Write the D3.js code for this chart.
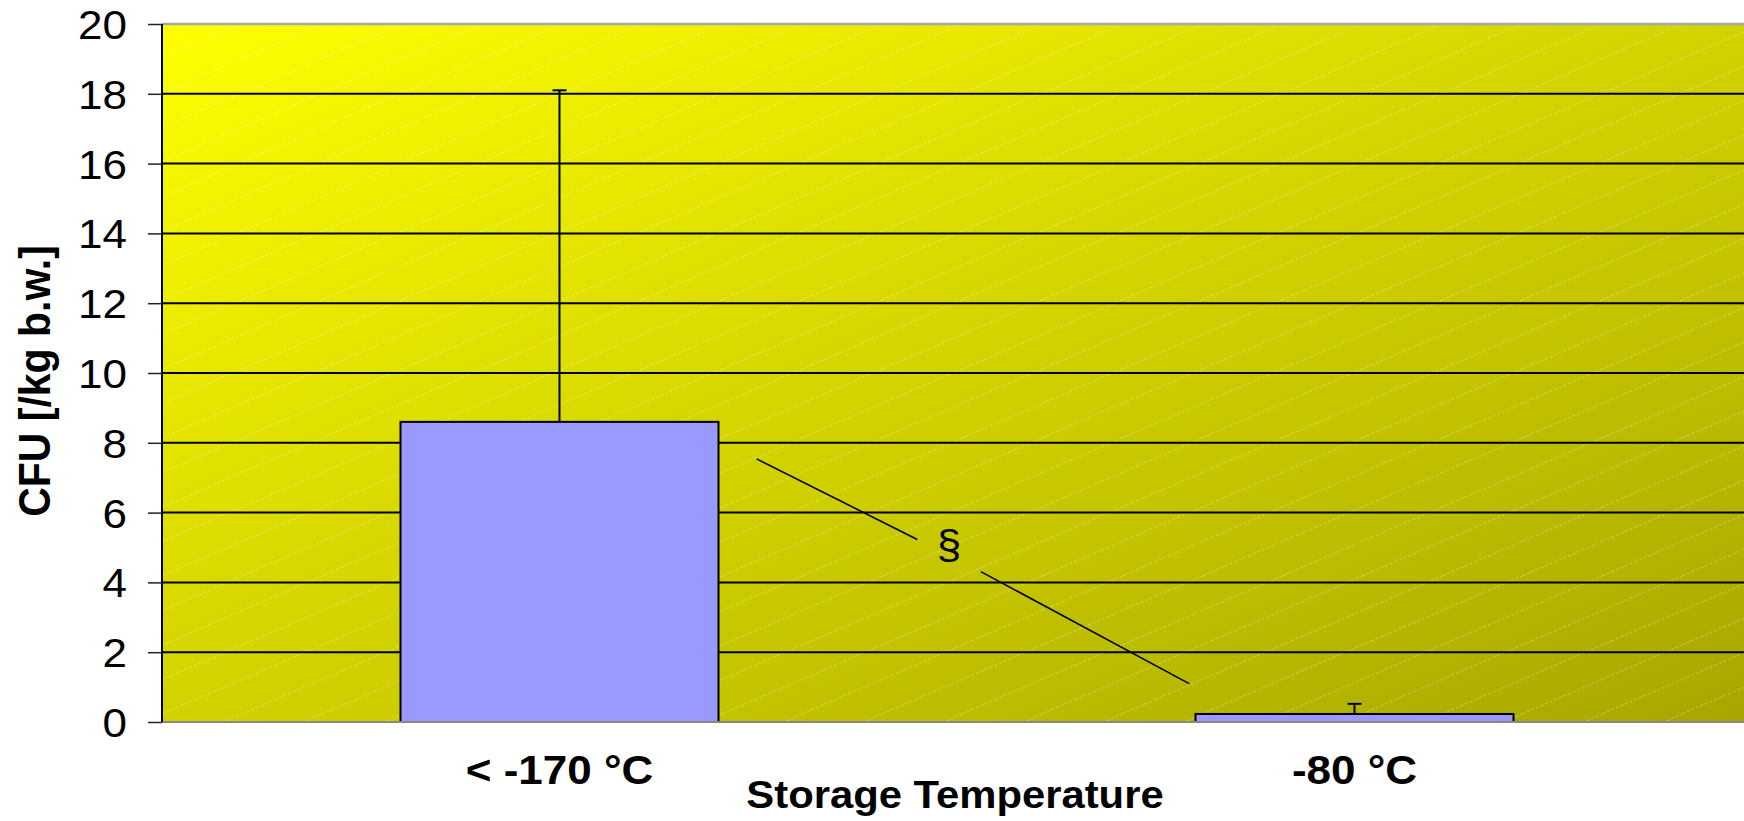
<!DOCTYPE html>
<html>
<head>
<meta charset="utf-8">
<script src="https://cdn.jsdelivr.net/npm/d3@7"></script>
<style>
  html, body { margin: 0; padding: 0; background: #fff; overflow: hidden; }
  svg { display: block; }
</style>
</head>
<body>
<svg id="chart" width="1744" height="821"></svg>
<script>
// ---- data ----
const categories = ["< -170 °C", "-80 °C"];
const means = [8.6, 0.23];
const errors = [9.5, 0.29];           // upper error (SD)
const yTicks = [0, 2, 4, 6, 8, 10, 12, 14, 16, 18, 20];
const yTitle = "CFU [/kg b.w.]";
const xTitle = "Storage Temperature";
// significance annotation, x in category-index units, y in data units
const annotX1 = [0.248, 0.450];
const annotY1 = [7.54, 5.23];
const annotX2 = [0.530, 0.792];
const annotY2 = [4.31, 1.10];
const annotSymbol = { text: "§", x: 0.49, y: 5.0 };

// ---- layout ----
const W = 1744, H = 821;
const margin = { left: 162, top: 24 };
const plotW = 1590, plotH = 698;
const font = "'Liberation Sans', Arial, Helvetica, sans-serif";
const sx = 1.1; // horizontal stretch of text in the original

const svg = d3.select("#chart");
const defs = svg.append("defs");

const grad = defs.append("linearGradient").attr("id", "bg")
  .attr("x1", 0).attr("y1", 0).attr("x2", 1).attr("y2", 1);
grad.append("stop").attr("offset", 0).attr("stop-color", "#FFFF00");
grad.append("stop").attr("offset", 0.5).attr("stop-color", "#D2D200");
grad.append("stop").attr("offset", 1).attr("stop-color", "#A6A600");

const pw = 80, ph = 34.5;
const pat = defs.append("pattern").attr("id", "hatch")
  .attr("patternUnits", "userSpaceOnUse")
  .attr("width", pw).attr("height", ph);
pat.append("line").attr("x1", 0).attr("y1", ph).attr("x2", pw).attr("y2", 0)
  .attr("stroke", "#ffffff").attr("stroke-opacity", 0.35)
  .attr("stroke-width", 1).attr("stroke-dasharray", "3,2");

const g = svg.append("g").attr("transform", `translate(${margin.left},${margin.top})`);

const y = d3.scaleLinear().domain([0, 20]).range([plotH, 0]);
const x = d3.scaleBand().domain(categories).range([0, plotW])
  .paddingInner(0.6).paddingOuter(0.3);
const xi = d3.scaleLinear().domain([0, 1])
  .range([x(categories[0]) + x.bandwidth() / 2, x(categories[1]) + x.bandwidth() / 2]);

// background
g.append("rect").attr("width", plotW).attr("height", plotH).attr("fill", "url(#bg)");
g.append("rect").attr("width", plotW).attr("height", plotH).attr("fill", "url(#hatch)");

// gridlines
g.selectAll("line.grid").data(yTicks.filter(d => d > 0 && d < 20)).enter()
  .append("line").attr("class", "grid")
  .attr("x1", 0).attr("x2", plotW)
  .attr("y1", d => y(d)).attr("y2", d => y(d))
  .attr("stroke", "#000").attr("stroke-width", 2);
// top border
g.append("line").attr("x1", 0).attr("x2", plotW).attr("y1", y(20)).attr("y2", y(20))
  .attr("stroke", "#a8a8a8").attr("stroke-width", 2.5);

// error bars
const eb = g.selectAll("g.err").data(categories).enter().append("g").attr("class", "err");
eb.append("line")
  .attr("x1", d => x(d) + x.bandwidth() / 2).attr("x2", d => x(d) + x.bandwidth() / 2)
  .attr("y1", (d, i) => y(means[i])).attr("y2", (d, i) => y(means[i] + errors[i]))
  .attr("stroke", "#000").attr("stroke-width", 2);
eb.append("line")
  .attr("x1", d => x(d) + x.bandwidth() / 2 - 7).attr("x2", d => x(d) + x.bandwidth() / 2 + 7)
  .attr("y1", (d, i) => y(means[i] + errors[i])).attr("y2", (d, i) => y(means[i] + errors[i]))
  .attr("stroke", "#000").attr("stroke-width", 2);

// bars
g.selectAll("rect.bar").data(categories).enter().append("rect").attr("class", "bar")
  .attr("x", d => x(d)).attr("width", x.bandwidth())
  .attr("y", (d, i) => y(means[i])).attr("height", (d, i) => y(0) - y(means[i]))
  .attr("fill", "#9999FF").attr("stroke", "#000").attr("stroke-width", 2);

// zero line
g.append("line").attr("x1", 0).attr("x2", plotW).attr("y1", y(0)).attr("y2", y(0))
  .attr("stroke", "#888").attr("stroke-width", 2);

// annotation
const lineGen = d3.line().x(d => xi(d[0])).y(d => y(d[1]));
g.append("path").attr("d", lineGen(d3.zip(annotX1, annotY1)))
  .attr("fill", "none").attr("stroke", "#000").attr("stroke-width", 1.6);
g.append("path").attr("d", lineGen(d3.zip(annotX2, annotY2)))
  .attr("fill", "none").attr("stroke", "#000").attr("stroke-width", 1.6);
g.append("text")
  .attr("transform", `translate(${xi(annotSymbol.x)},${y(annotSymbol.y)}) scale(${sx},1)`)
  .attr("text-anchor", "middle").attr("dy", "0.28em")
  .style("font-family", font).style("font-size", "40px").attr("fill", "#000")
  .text(annotSymbol.text);

// y axis
const yAxis = g.append("g").call(
  d3.axisLeft(y).tickValues(yTicks).tickSize(14).tickPadding(21).tickFormat(d3.format("d")));
yAxis.select(".domain").attr("stroke", "#000").attr("stroke-width", 2)
  .attr("d", `M0,${plotH}V0`);
yAxis.selectAll(".tick line").attr("stroke", "#222").attr("stroke-width", 1.5);
yAxis.selectAll(".tick text")
  .attr("x", -35 / sx).attr("dy", "0.36em")
  .attr("transform", `scale(${sx},1)`)
  .style("font-family", font).style("font-size", "40px").attr("fill", "#000");

// x axis
const xAxis = g.append("g").attr("transform", `translate(0,${plotH})`)
  .call(d3.axisBottom(x).tickSize(0));
xAxis.select(".domain").remove();
xAxis.selectAll(".tick text")
  .attr("y", 0).attr("dy", 0)
  .attr("transform", `translate(0,62) scale(${sx},1)`)
  .style("font-family", font).style("font-size", "40px").style("font-weight", "bold")
  .attr("fill", "#000");

// axis titles
svg.append("text")
  .attr("transform", `translate(${margin.left + plotW / 2 - 2},808) scale(${sx},1)`)
  .attr("text-anchor", "middle")
  .style("font-family", font).style("font-size", "38px").style("font-weight", "bold")
  .text(xTitle);
svg.append("text")
  .attr("transform", `translate(50,381) scale(${sx},1) rotate(-90)`)
  .attr("text-anchor", "middle")
  .style("font-family", font).style("font-size", "41px").style("font-weight", "bold")
  .text(yTitle);
</script>
</body>
</html>
